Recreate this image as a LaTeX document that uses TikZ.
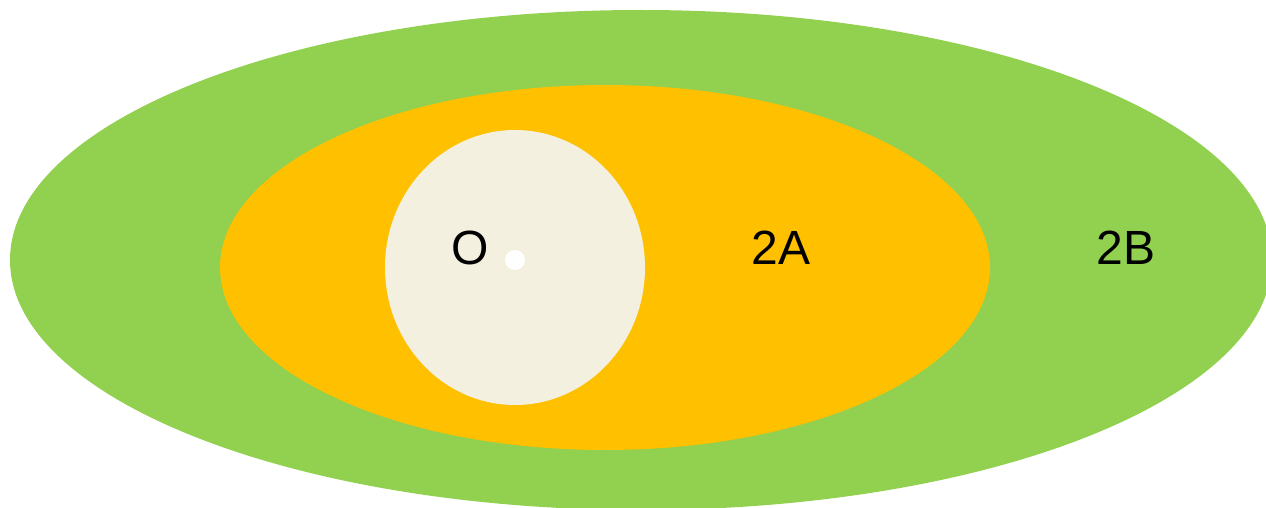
\documentclass[tikz,border=0pt]{standalone}
\usepackage{fontspec}
\setmainfont{Liberation Sans}
\definecolor{zoneGreen} {RGB}{146, 208,  80}
\definecolor{zoneOrange}{RGB}{255, 192,   0}
\definecolor{zoneCream} {RGB}{243, 240, 224}
\usetikzlibrary{positioning}

\begin{document}
\begin{tikzpicture}[
  x=0.5pt, y=-0.5pt,
  label/.style={font=\fontsize{24}{28}\selectfont, text=black, inner sep=0pt},
]
  \useasboundingbox (0,0) rectangle (1266,508);

  % Nested zones, outer to inner
  \fill[zoneGreen]  (641,260)   ellipse [x radius=631, y radius=250];
  \fill[zoneOrange] (605,267.5) ellipse [x radius=385, y radius=182.5];
  \fill[zoneCream]  (515,267.5) ellipse [x radius=130, y radius=137.5];

  % Centre point
  \fill[white] (515,260) circle [radius=10];

  % Zone labels
  \node[label] (origin) at (470,248)  {O};
  \node[label] (zoneA)  at (781,248)  {2A};
  \node[label] (zoneB)  at (1126,248) {2B};
\end{tikzpicture}
\end{document}
